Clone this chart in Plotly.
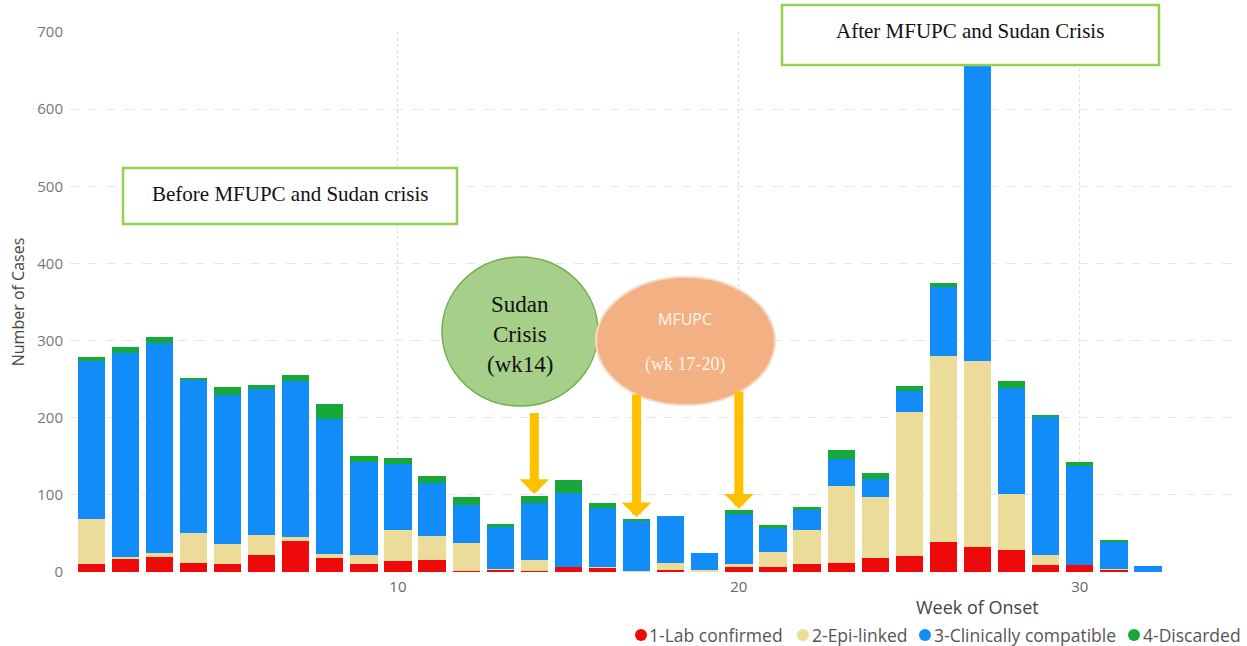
import plotly.graph_objects as go

weeks = list(range(1, 33))
lab_confirmed = [10, 17, 20, 12, 10, 22, 40, 18, 10, 14, 15, 1, 3, 1, 6, 6, 0, 2, 1, 7, 7, 11,
                 12, 18, 21, 39, 33, 28, 9, 9, 3, 0]
epi_linked = [59, 2, 5, 38, 26, 26, 6, 5, 12, 40, 32, 36, 1, 15, 0, 1, 1, 10, 1, 3, 19, 43,
              99, 79, 186, 241, 241, 73, 13, 0, 1, 0]
clinically_compatible = [205, 265, 272, 199, 194, 189, 201, 175, 121, 86, 68, 50, 54, 73, 96, 76, 65, 61, 22, 65, 31, 27,
                         36, 24, 28, 90, 416, 137, 180, 129, 35, 8]
discarded = [5, 8, 8, 2, 10, 5, 9, 20, 7, 8, 9, 10, 4, 10, 17, 6, 3, 0, 0, 5, 4, 3,
             11, 7, 6, 4, 0, 9, 1, 4, 3, 0]

series_names = ["1-Lab confirmed", "2-Epi-linked", "3-Clinically compatible", "4-Discarded"]
series_values = [lab_confirmed, epi_linked, clinically_compatible, discarded]
series_colors = ["#EE0A0A", "#EBDC9A", "#128CF9", "#17A83A"]

y_ticks = [0, 100, 200, 300, 400, 500, 600, 700]
x_ticks = [10, 20, 30]

# layout geometry (pixels)
W, H = 1247, 646
L, R, T, B = 70, 1240, 32, 572


def px(x):
    return (x - L) / (R - L)


def py(y):
    return (B - y) / (B - T)


fig = go.Figure()
for name, vals, col in zip(series_names, series_values, series_colors):
    fig.add_trace(go.Bar(x=weeks, y=vals, name=name, marker=dict(color=col, line=dict(width=0)),
                         showlegend=False))

serif = "Liberation Serif, Times New Roman, serif"
sans = "Open Sans, Noto Sans, sans-serif"

shapes = []
annotations = []


def text(x, y, s, font, xanchor="center"):
    annotations.append(dict(xref="paper", yref="paper", x=px(x), y=py(y), text=s, showarrow=False,
                            xanchor=xanchor, yanchor="middle", font=font))


# Before box
shapes.append(dict(type="rect", xref="paper", yref="paper", x0=px(123), x1=px(457), y0=py(224), y1=py(168),
                   line=dict(color="#92D050", width=2.5), fillcolor="white", layer="above"))
text(290, 194, "Before MFUPC and Sudan crisis", dict(family=serif, size=21, color="#111"))
# After box
shapes.append(dict(type="rect", xref="paper", yref="paper", x0=px(782), x1=px(1159), y0=py(65), y1=py(5),
                   line=dict(color="#92D050", width=2.5), fillcolor="white", layer="above"))
text(970, 31, "After MFUPC and Sudan Crisis", dict(family=serif, size=21, color="#111"))
# Sudan circle
shapes.append(dict(type="circle", xref="paper", yref="paper", x0=px(442), x1=px(598), y0=py(406), y1=py(257),
                   line=dict(color="#70AD47", width=1.5), fillcolor="#A6CF8A", layer="above"))
for txt, yy in [("Sudan", 304), ("Crisis", 334), ("(wk14)", 364)]:
    text(520, yy, txt, dict(family=serif, size=23, color="#111"))
# MFUPC ellipse
shapes.append(dict(type="circle", xref="paper", yref="paper", x0=px(596), x1=px(775), y0=py(405), y1=py(277),
                   line=dict(color="#F8D9C4", width=2), fillcolor="#F3B083", layer="above"))
text(685, 319, "MFUPC", dict(family=sans, size=16, color="#FFF6EE"))
text(685, 364, "(wk 17-20)", dict(family=serif, size=18, color="#FFF6EE"))

# Arrows to weeks 14, 17, 20
arrow_weeks = [14, 17, 20]
arrow_tails = [208, 232, 236]
for wk, tail in zip(arrow_weeks, arrow_tails):
    total = lab_confirmed[wk - 1] + epi_linked[wk - 1] + clinically_compatible[wk - 1] + discarded[wk - 1]
    annotations.append(dict(x=wk, y=total + 2, ax=wk, ay=tail, xref="x", yref="y", axref="x", ayref="y",
                            showarrow=True, arrowhead=1, arrowsize=0.55, arrowwidth=9, arrowcolor="#FFC000",
                            text=""))

# X axis title
text(977, 607, "Week of Onset", dict(family=sans, size=18, color="#444"))

# Custom legend
legend_dot_x = [641, 803, 925, 1134]
legend_text_x = [647, 810, 932, 1141]
for name, col, dx, tx in zip(series_names, series_colors, legend_dot_x, legend_text_x):
    shapes.append(dict(type="circle", xref="paper", yref="paper", x0=px(dx - 6), x1=px(dx + 6),
                       y0=py(641), y1=py(629), line=dict(width=0), fillcolor=col))
    text(tx, 635, name, dict(family=sans, size=17.5, color="#555"), xanchor="left")

fig.update_layout(
    barmode="stack",
    bargap=0.2,
    width=W, height=H,
    margin=dict(l=L, r=W - R, t=T, b=H - B, autoexpand=False),
    plot_bgcolor="white", paper_bgcolor="white",
    showlegend=False,
    shapes=shapes,
    annotations=annotations,
    font=dict(family=sans),
    xaxis=dict(range=[0.38, 34.7], tickvals=x_ticks, showgrid=True, gridcolor="#dcdcdc", griddash="dot",
               gridwidth=1, zeroline=False, showline=False, ticks="", ticklabelstandoff=4,
               tickfont=dict(size=15, color="#666")),
    yaxis=dict(range=[0, 700], tickvals=y_ticks, showgrid=True, gridcolor="#e6e6e6", griddash="dash",
               zeroline=False, showline=False, ticks="", tickfont=dict(size=15, color="#777"),
               ticklabelstandoff=6,
               title=dict(text="Number of Cases", font=dict(size=16, color="#444"), standoff=8)),
)

fig.write_html("out.html", config={"displayModeBar": False},
               post_script="document.body.style.margin='0';")
